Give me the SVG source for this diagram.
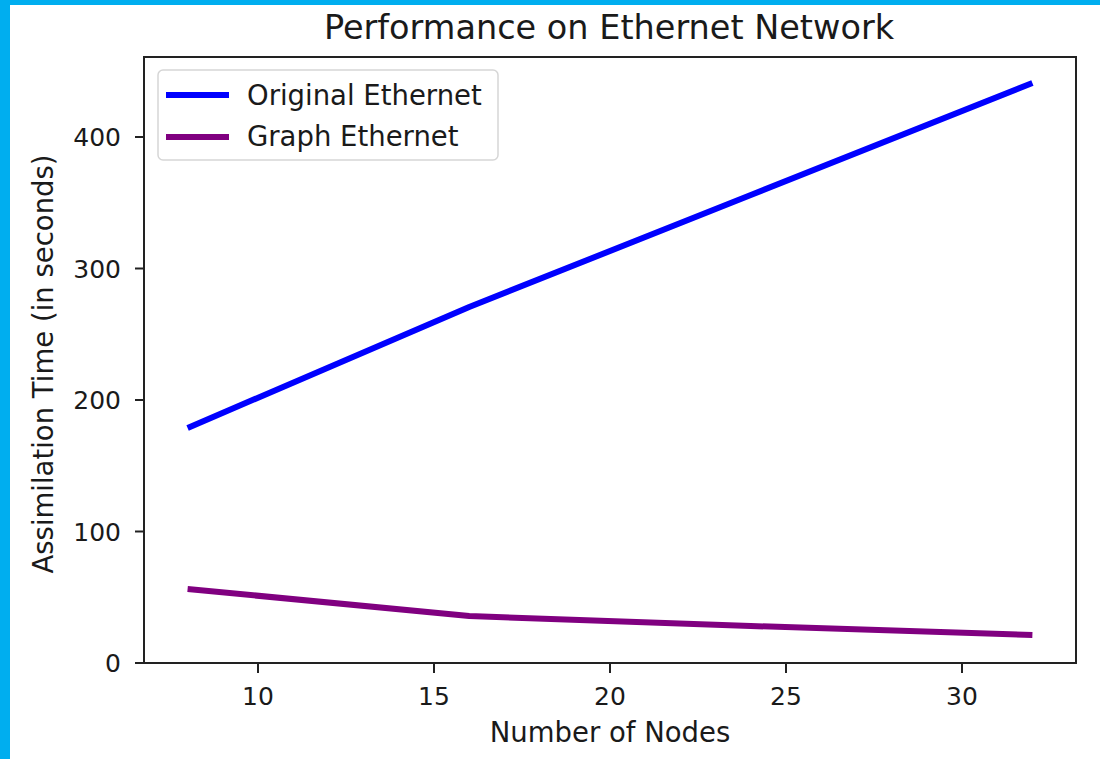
<svg xmlns="http://www.w3.org/2000/svg" width="1100" height="759" viewBox="0 0 1100 759">
  <style>
    text { font-family: "DejaVu Sans", "Liberation Sans", sans-serif; fill: #1a1a1a; }
    .tick { font-size: 25px; }
    .lab { font-size: 27.5px; }
    .title { font-size: 33.5px; }
    .leg { font-size: 27.5px; }
    .spine { fill: none; stroke: #222; stroke-width: 2; }
    .tk { stroke: #222; stroke-width: 2; }
    .series { fill: none; stroke-width: 6; stroke-linejoin: round; }
  </style>
  <!-- page background and frame bands -->
  <rect x="0" y="0" width="1100" height="759" fill="#ffffff"/>
  <rect x="0" y="0" width="1100" height="5" fill="#00aeef"/>
  <rect x="0" y="0" width="10" height="759" fill="#00aeef"/>

  <!-- title -->
  <text class="title" x="609" y="39" text-anchor="middle">Performance on Ethernet Network</text>

  <!-- data series -->
  <g id="series">
    <polyline id="original-ethernet" class="series" stroke="#0000ff" points="187.6,428 469.2,307 750.8,195 1032.4,83"/>
    <polyline id="graph-ethernet" class="series" stroke="#800080" points="187.6,589 469.2,616 750.8,626 1032.4,635"/>
  </g>

  <!-- axes frame -->
  <rect class="spine" x="144" y="57" width="932" height="606"/>

  <!-- x ticks -->
  <g id="x-axis">
    <line class="tk" x1="258" y1="663" x2="258" y2="673"/>
    <line class="tk" x1="434" y1="663" x2="434" y2="673"/>
    <line class="tk" x1="610" y1="663" x2="610" y2="673"/>
    <line class="tk" x1="786" y1="663" x2="786" y2="673"/>
    <line class="tk" x1="962" y1="663" x2="962" y2="673"/>
    <text class="tick" x="258" y="705" text-anchor="middle">10</text>
    <text class="tick" x="434" y="705" text-anchor="middle">15</text>
    <text class="tick" x="610" y="705" text-anchor="middle">20</text>
    <text class="tick" x="786" y="705" text-anchor="middle">25</text>
    <text class="tick" x="962" y="705" text-anchor="middle">30</text>
    <text class="lab" x="610" y="742" text-anchor="middle">Number of Nodes</text>
  </g>

  <!-- y ticks -->
  <g id="y-axis">
    <line class="tk" x1="135" y1="663" x2="144" y2="663"/>
    <line class="tk" x1="135" y1="531.5" x2="144" y2="531.5"/>
    <line class="tk" x1="135" y1="400" x2="144" y2="400"/>
    <line class="tk" x1="135" y1="268.5" x2="144" y2="268.5"/>
    <line class="tk" x1="135" y1="137" x2="144" y2="137"/>
    <text class="tick" x="121" y="672" text-anchor="end">0</text>
    <text class="tick" x="121" y="540.5" text-anchor="end">100</text>
    <text class="tick" x="121" y="409" text-anchor="end">200</text>
    <text class="tick" x="121" y="277.5" text-anchor="end">300</text>
    <text class="tick" x="121" y="146" text-anchor="end">400</text>
    <text class="lab" transform="translate(53,364) rotate(-90)" text-anchor="middle">Assimilation Time (in seconds)</text>
  </g>

  <!-- legend -->
  <g id="legend">
    <rect x="158" y="70" width="340" height="90" rx="5" fill="#ffffff" fill-opacity="0.8" stroke="#d6d6d6" stroke-width="1.5"/>
    <line x1="166" y1="95" x2="229" y2="95" stroke="#0000ff" stroke-width="6"/>
    <text class="leg" x="247" y="105">Original Ethernet</text>
    <line x1="166" y1="137" x2="229" y2="137" stroke="#800080" stroke-width="6"/>
    <text class="leg" x="247" y="146">Graph Ethernet</text>
  </g>
</svg>
